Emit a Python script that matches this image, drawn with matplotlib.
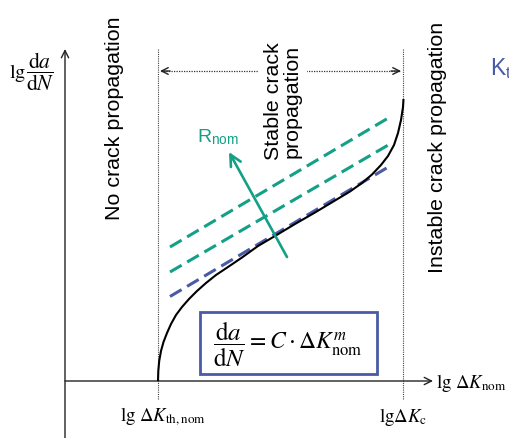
import matplotlib
matplotlib.use('Agg')
import matplotlib.pyplot as plt
from matplotlib.patches import Rectangle

plt.rcParams['mathtext.fontset'] = 'stix'
SANS = ['Liberation Sans', 'DejaVu Sans']

# Schematic crack growth curve: x = lg ΔK_nom, y = lg da/dN (arbitrary units)
curve_x = [93, 93.3, 94.2, 96, 98.5, 102, 106, 111, 117, 124, 132, 141, 151, 163,
           177, 193, 210, 230, 250, 270, 285, 297, 307, 316, 323, 329, 333, 336, 338, 338.5]
curve_y = [0, 10, 20, 30, 39, 48, 57, 66, 74, 82, 90, 98, 106, 114,
           123.5, 135, 145, 157, 168.5, 180.5, 189.5, 198, 206.5, 216, 225, 236, 248, 261, 274, 282]

# Paris-law lines: reference and two higher stress ratios
paris_x = [105, 325]
paris_ref_y = [84.5, 215]
paris_r1_y = [109, 237]
paris_r2_y = [134, 264]

# Threshold and critical stress intensity range
dk_th = 93
dk_c = 338

# Direction of increasing R_nom
r_arrow_start = (222, 124)
r_arrow_end = (164, 229)

TEAL = '#14a086'
BLUE = '#4a5ba6'
DARK = '#222222'

fig = plt.figure(figsize=(5.1, 4.39), dpi=100)
ax = fig.add_axes([0, 0, 1, 1])
ax.set_xlim(-65, 445)
ax.set_ylim(-57, 382)
ax.axis('off')

# coordinate axes
ax.annotate('', xy=(0, 332), xytext=(0, -57),
            arrowprops=dict(arrowstyle='->', lw=1.0, color=DARK,
                            mutation_scale=13, shrinkA=0, shrinkB=0))
ax.annotate('', xy=(368, 0), xytext=(0, 0),
            arrowprops=dict(arrowstyle='->', lw=1.0, color=DARK,
                            mutation_scale=13, shrinkA=0, shrinkB=0))

# region borders
for xv in (dk_th, dk_c):
    ax.plot([xv, xv], [-18, 332], ls=(0, (1, 1)), lw=0.8, color='#444444', zorder=1)

# double arrow spanning the stable region
ax.plot([dk_th + 3, dk_c - 3], [310, 310], ls=(0, (1, 1)), lw=0.9, color='#333333', zorder=1)
ax.annotate('', xy=(dk_th + 2, 310), xytext=(dk_th + 12, 310),
            arrowprops=dict(arrowstyle='->', lw=1.0, color=DARK,
                            mutation_scale=12, shrinkA=0, shrinkB=0))
ax.annotate('', xy=(dk_c - 2, 310), xytext=(dk_c - 12, 310),
            arrowprops=dict(arrowstyle='->', lw=1.0, color=DARK,
                            mutation_scale=12, shrinkA=0, shrinkB=0))

# Paris lines
dash = (0, (4.4, 2.1))
ax.plot(paris_x, paris_r2_y, color=TEAL, lw=2.2, ls=dash, zorder=2)
ax.plot(paris_x, paris_r1_y, color=TEAL, lw=2.2, ls=dash, zorder=2)
ax.plot(paris_x, paris_ref_y, color=BLUE, lw=2.2, ls=dash, zorder=3)

# crack growth curve
ax.plot(curve_x, curve_y, color='black', lw=1.5, zorder=4, solid_capstyle='butt')

# R_nom arrow
ax.annotate('', xy=r_arrow_end, xytext=r_arrow_start,
            arrowprops=dict(arrowstyle='->', lw=1.9, color=TEAL,
                            mutation_scale=20, shrinkA=0, shrinkB=0), zorder=5)
ax.text(153, 245, r'R$_{\mathregular{nom}}$', color=TEAL, fontsize=14,
        family=SANS, ha='center', va='center')

# region labels
ax.text(50, 264, 'No crack propagation', rotation=90, fontsize=15.4,
        family=SANS, ha='center', va='center', color='black')
ax.text(218, 281, 'Stable crack\npropagation', rotation=90, fontsize=15.4,
        family=SANS, ha='center', va='center', color='black', linespacing=1.0,
        bbox=dict(boxstyle='square,pad=0.25', fc='white', ec='none'), zorder=6)
ax.text(373, 235, 'Instable crack propagation', rotation=90, fontsize=15.4,
        family=SANS, ha='center', va='center', color='black')
ax.text(425, 314, r'K$_{\mathregular{t}}$', color=BLUE, fontsize=16.5,
        family=SANS, ha='left', va='center')

# y axis label
ax.text(-39, 309, r'$\mathrm{lg}$', fontsize=14.5, ha='right', va='center')
ax.text(-25, 310, r'$\dfrac{\mathrm{d}a}{\mathrm{d}N}$', fontsize=15.5,
        ha='center', va='center')

# x axis labels
ax.text(371, -1, r'$\mathrm{lg}\ \Delta K_{\mathrm{nom}}$', fontsize=13.5,
        ha='left', va='center')
ax.text(dk_th + 5, -35, r'$\mathrm{lg}\ \Delta K_{\mathrm{th,nom}}$', fontsize=13.5,
        ha='center', va='center')
ax.text(dk_c, -35, r'$\mathrm{lg}\Delta K_{\mathrm{c}}$', fontsize=13.5,
        ha='center', va='center')

# Paris law box
ax.add_patch(Rectangle((135, 7), 177, 62, fill=False, ec=BLUE, lw=2.0, zorder=5))
ax.text(164, 38, r'$\dfrac{\mathrm{d}a}{\mathrm{d}N}$', fontsize=18,
        ha='center', va='center', zorder=6)
ax.text(181, 38, r'$= C \cdot \Delta K_{\mathrm{nom}}^{m}$', fontsize=17,
        ha='left', va='center', zorder=6)

fig.savefig('out.png', dpi=100)
